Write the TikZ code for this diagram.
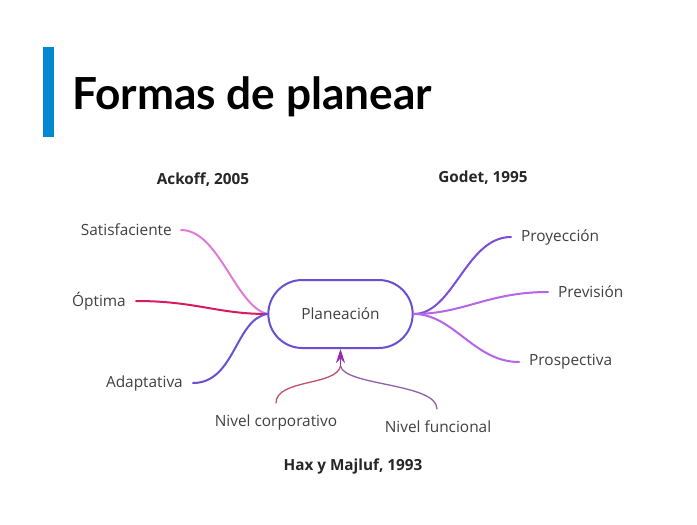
\documentclass[tikz,border=0pt]{standalone}
\usepackage{fontspec}
\setmainfont{Open Sans}
\newfontfamily\latofont{Lato}
\usetikzlibrary{shapes.misc,arrows.meta}
\definecolor{barblue}{HTML}{0288D1}
\definecolor{hubline}{HTML}{6A4FD0}
\definecolor{pinkline}{HTML}{E27AD8}
\definecolor{redline}{HTML}{D81B60}
\definecolor{violet1}{HTML}{7A4FD6}
\definecolor{violet2}{HTML}{B565E8}
\definecolor{arrowpurple}{HTML}{9C27B0}
\definecolor{corpline}{HTML}{C0506A}
\definecolor{funcline}{HTML}{9060A8}
\definecolor{labelgray}{HTML}{404040}
\tikzset{
  lbl/.style={font=\fontsize{15.4}{18}\selectfont, text=labelgray, inner sep=0pt},
  author/.style={font=\fontsize{15.3}{18}\selectfont\bfseries, text=black!85, inner sep=0pt},
  branch/.style={line width=2pt, line cap=round},
  hub/.style={rounded rectangle, draw=hubline, line width=2pt, minimum width=151pt, minimum height=68pt, font=\fontsize{15.4}{18}\selectfont, text=labelgray}
}
\begin{document}
\begin{tikzpicture}[x=1pt,y=-1pt]
\useasboundingbox (0,0) rectangle (697,525);
\fill[white] (0,0) rectangle (697,525);
% title with side bar
\fill[barblue] (43,47) rectangle (54,137);
\node[anchor=base west, inner sep=0pt, font=\latofont\bfseries\fontsize{44.2}{50}\selectfont] (title) at (72,109) {Formas de planear};

% central node
\node[hub] (plan) at (340.5,314) {Planeación};

% authors
\node[author] (ackoff) at (203,180) {Ackoff, 2005};
\node[author] (godet) at (483,178) {Godet, 1995};
\node[author] (hax) at (353,466) {Hax y Majluf, 1993};

% left branches
\node[lbl, anchor=east] (sat) at (172,230) {Satisfaciente};
\node[lbl, anchor=east] (opt) at (126,301) {Óptima};
\node[lbl, anchor=east] (ada) at (183,383) {Adaptativa};
\draw[branch, pinkline] ([xshift=9pt]sat.east) .. controls +(38,0) and +(-32,-8) .. (plan.west);
\draw[branch, redline] ([xshift=10pt]opt.east) .. controls +(60,0) and +(-50,0) .. (plan.west);
\draw[branch, hubline] ([xshift=10pt]ada.east) .. controls +(42,0) and +(-32,5) .. (plan.west);

% right branches
\node[lbl, anchor=west] (pro) at (521,237) {Proyección};
\node[lbl, anchor=west] (pre) at (558,292) {Previsión};
\node[lbl, anchor=west] (psp) at (529,362) {Prospectiva};
\draw[branch, violet1] (plan.east) .. controls +(40,0) and +(-45,0) .. ([xshift=-10pt]pro.west);
\draw[branch, violet2] (plan.east) .. controls +(50,0) and +(-60,0) .. ([xshift=-10pt]pre.west);
\draw[branch, violet2] (plan.east) .. controls +(40,0) and +(-45,0) .. ([xshift=-10pt]psp.west);

% bottom levels feeding the hub
\node[lbl, anchor=north] (corp) at (276,415) {Nivel corporativo};
\node[lbl, anchor=north] (func) at (438,421) {Nivel funcional};
\coordinate (join) at (340.5,366);
\coordinate (cstart) at (276,403);
\coordinate (fstart) at (437,409);
\draw[line width=1.3pt, corpline, line cap=round] (cstart) .. controls +(0,-24) and +(-4,20) .. (join);
\draw[line width=1.3pt, funcline, line cap=round] (fstart) .. controls +(0,-26) and +(4,20) .. (join);
\draw[line width=1.6pt, arrowpurple, -{Stealth[length=14pt,width=9pt]}] (join) -- (plan.south);
\end{tikzpicture}
\end{document}
